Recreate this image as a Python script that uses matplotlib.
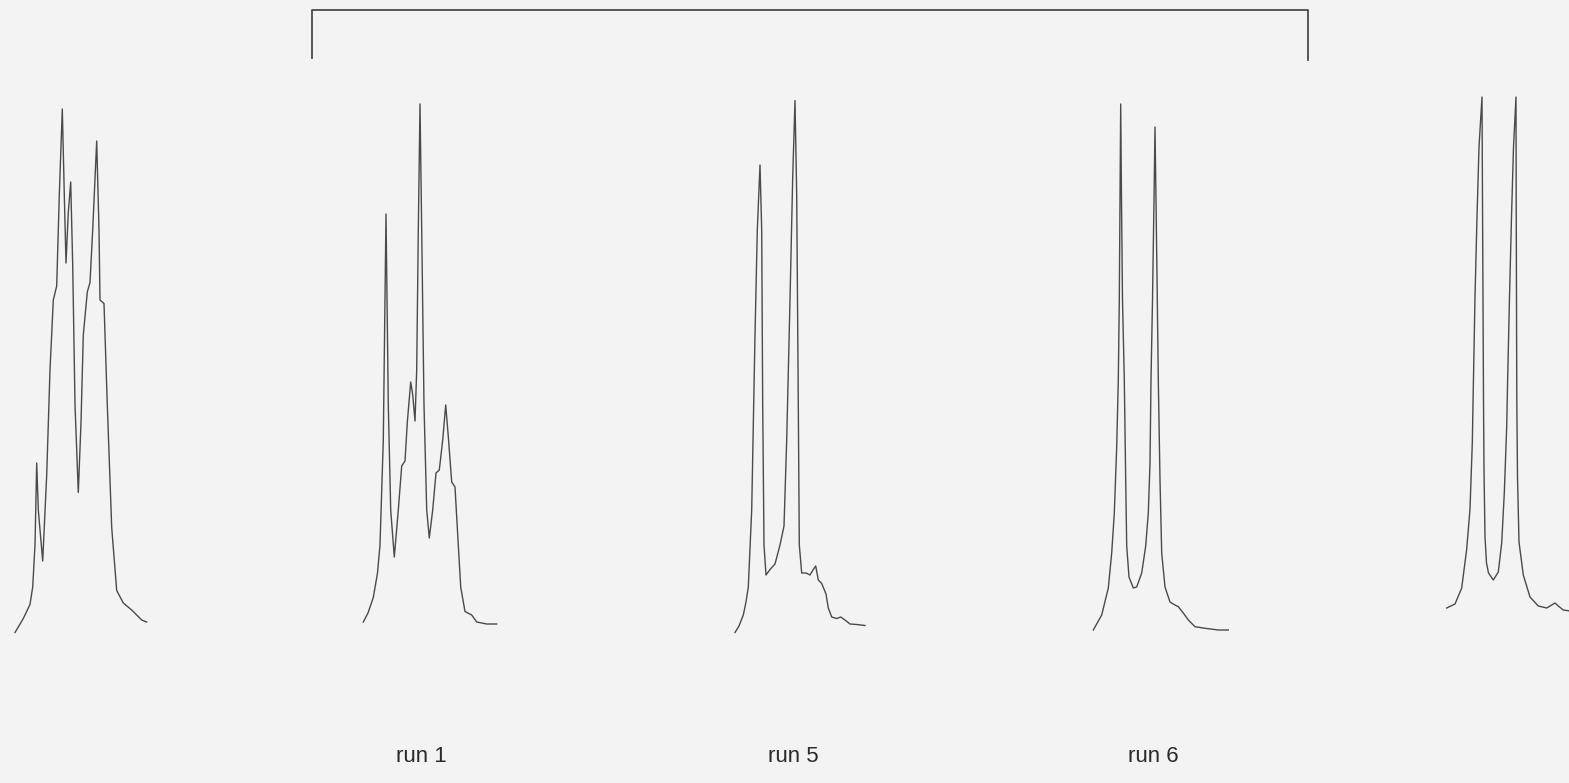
import numpy as np
import matplotlib
matplotlib.use("Agg")
import matplotlib.pyplot as plt

# ---- data: retention (arbitrary units from trace start) and detector signal ----
run_a_time = [0, 8.3, 15, 17.7, 20, 21.7, 23.3, 27.7, 31.7, 35, 38.3, 41.7, 44.3, 47.3, 49.3, 51,
              53.3, 55.7, 57.7, 60, 63.3, 66, 68.3, 72.3, 75, 77.7, 81.7, 84, 85, 89, 92.3, 96.7,
              101.7, 108.3, 116.7, 121.7, 126.7, 131.7]
run_a_signal = [7.5, 21.5, 35.5, 53, 95, 177, 130, 79, 165, 270, 340, 354, 445, 531, 445, 377,
                427.5, 458, 375, 235, 147.5, 217.5, 305, 348, 357.5, 410, 499, 410, 340, 336.5,
                235, 112.5, 49.5, 37, 30, 25, 20, 18]

run1_time = [0.3, 5, 10.3, 14.5, 17, 20.3, 23, 25.3, 27.7, 31.3, 35.3, 38.7, 42, 44.3, 47.7, 49.7,
             52, 53.7, 55.3, 57, 58.7, 61, 63.7, 66.3, 69.7, 73, 76.3, 79.7, 82.7, 85.3, 88.7, 92,
             94.3, 97.7, 102, 108.7, 113.7, 123.7, 133.7]
run1_signal = [18, 27, 42.5, 67, 95, 200, 426, 235, 130, 83, 130, 174, 179, 217.5, 258, 245.5,
               219, 270, 410, 536, 410, 235, 130, 102, 130, 167, 170, 200, 235, 203.5, 158, 153,
               112.5, 53, 28.5, 25, 18, 16, 16]

run5_time = [0, 4, 8.3, 11, 13.3, 16.7, 20, 22.3, 25, 26.7, 27.7, 29, 31, 35, 40, 45, 49, 51.7, 55,
             57.7, 60, 61.7, 63.3, 64.3, 66.7, 71, 75, 78.3, 80.7, 83.3, 86.7, 91, 93.3, 96.7,
             101.7, 105.7, 110, 115, 121.7, 130]
run5_signal = [7.5, 14, 25, 38, 53, 130, 305, 410, 475, 410, 235, 95, 65, 70.5, 76, 95, 114, 200,
               340, 462.5, 539.5, 445, 235, 95, 67, 67, 65, 70.5, 74, 60, 56.5, 46, 32, 23, 21.5,
               23, 20, 16, 15.5, 14.5]

run6_time = [0.3, 8.7, 15.3, 18.7, 21.3, 23.7, 25.3, 26.3, 27, 27.7, 28.5, 29.5, 31.3, 32.7, 33.7,
             36, 40.3, 43.7, 48.7, 52.7, 55.3, 57, 58, 59.5, 61, 62, 63, 64.3, 65.3, 67, 68.7, 72,
             77, 82, 85.3, 90.3, 95.3, 102, 112, 125.3, 135.3]
run6_signal = [10, 25, 52, 87, 127, 193, 260, 340, 440, 536, 440, 340, 260, 160, 94, 63, 52, 53,
               67, 94, 127, 177, 260, 340, 440, 513, 440, 340, 260, 160, 87, 53, 38, 35, 33.3, 27,
               20, 13.3, 11.7, 10, 10]

run_b_time = [0.7, 9, 15.7, 20.7, 24, 26.3, 27.5, 29, 31, 33, 36, 36.5, 37, 37.5, 38, 39, 40.5,
              42.5, 47.3, 52.3, 55.7, 58.3, 60.7, 61.7, 63.5, 65.5, 67.5, 70, 70.2, 70.5, 70.8,
              71.5, 73, 77.3, 84, 92.3, 100.7, 105.7, 109, 112.3, 117.3, 124]
run_b_signal = [32, 36, 52, 91, 131, 197, 263, 343, 423, 493, 543, 440, 340, 240, 170, 103, 77,
                67, 60, 68, 97, 147, 213, 263, 343, 423, 493, 543, 440, 340, 240, 163, 98, 65,
                43, 34, 32, 35, 37, 34, 30, 29]

run_labels = ["", "run 1", "run 5", "run 6", ""]

# ---- layout ----
W, H = 1569, 783
fig = plt.figure(figsize=(W / 100, H / 100), dpi=100)
bg = "#f4f3f4"
fig.patch.set_facecolor(bg)
ax = fig.add_axes([0, 0, 1, 1])
ax.set_facecolor(bg)
ax.set_xlim(0, W)
ax.set_ylim(H, 0)
ax.axis("off")

baseline = 640
starts = [15, 363, 735, 1093, 1446]
label_x = [0, 421, 793, 1153, 0]
traces = [(run_a_time, run_a_signal), (run1_time, run1_signal), (run5_time, run5_signal),
          (run6_time, run6_signal), (run_b_time, run_b_signal)]
line_col = "#4a4a4a"

for (t, s), x0, lab, lx in zip(traces, starts, run_labels, label_x):
    t = np.asarray(t, float)
    s = np.asarray(s, float)
    ax.plot(x0 + t, baseline - s, color=line_col, lw=1.0, solid_joinstyle="round")
    if lab:
        ax.text(lx, 757, lab, ha="center", va="center", fontsize=16,
                family="Liberation Sans", color="#2a2a2a")

# bracket over runs
ax.plot([312, 312, 1308, 1308], [58, 10, 10, 60], color=line_col, lw=1.3)

fig.savefig("out.png", dpi=100, facecolor=bg)
